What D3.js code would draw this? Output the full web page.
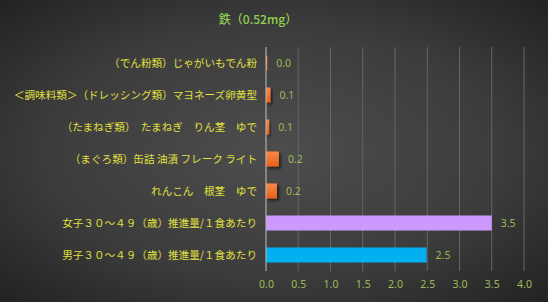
<!DOCTYPE html>
<html><head><meta charset="utf-8">
<script src="https://cdn.jsdelivr.net/npm/d3@7"></script>
<style>html,body{margin:0;padding:0;background:#333;}svg{display:block;}</style>
</head><body>
<script>
const title = "鉄（0.52mg）";
const categories = [
  "（でん粉類）じゃがいもでん粉",
  "＜調味料類＞（ドレッシング類）マヨネーズ卵黄型",
  "（たまねぎ類）　たまねぎ　りん茎　ゆで",
  "（まぐろ類）缶詰 油漬 フレーク ライト",
  "れんこん　根茎　ゆで",
  "女子３０～４９（歳）推進量/１食あたり",
  "男子３０～４９（歳）推進量/１食あたり"
];
const values = [0.02, 0.07, 0.05, 0.2, 0.17, 3.5, 2.49];
const barColors = ["orange","orange","orange","orange","orange","#cc99ff","#00b0f0"];
const xTicks = [0,0.5,1,1.5,2,2.5,3,3.5,4];

(function(){
const W = 548, H = 302;
const svg = d3.select("body").append("svg").attr("width", W).attr("height", H);
const defs = svg.append("defs");
const bg = defs.append("radialGradient").attr("id","bg").attr("cx","50%").attr("cy","50%").attr("r","75%");
bg.append("stop").attr("offset","0%").attr("stop-color","#4d4d4d");
bg.append("stop").attr("offset","55%").attr("stop-color","#3c3c3c");
bg.append("stop").attr("offset","100%").attr("stop-color","#1e1e1e");
const og = defs.append("linearGradient").attr("id","og").attr("x1","0").attr("y1","0").attr("x2","0").attr("y2","1");
og.append("stop").attr("offset","0%").attr("stop-color","#f58a4a");
og.append("stop").attr("offset","100%").attr("stop-color","#e8601a");
const sh = defs.append("filter").attr("id","sh").attr("x","-20%").attr("y","-20%").attr("width","160%").attr("height","160%");
sh.append("feDropShadow").attr("dx",2).attr("dy",2).attr("stdDeviation",1.5).attr("flood-color","#000").attr("flood-opacity",0.6);

svg.append("rect").attr("width",W).attr("height",H).attr("fill","url(#bg)");

const pl = 266, pr = 524, pt = 47, pb = 271;
const x = d3.scaleLinear().domain([0,4]).range([pl,pr]);
const y = d3.scaleBand().domain(categories).range([pt,pb]).paddingInner(0.53).paddingOuter(0.265);

svg.append("g").selectAll("line").data(xTicks.slice(1)).join("line")
  .attr("x1",d=>x(d)).attr("x2",d=>x(d)).attr("y1",pt).attr("y2",pb)
  .attr("stroke","#666").attr("stroke-width",1);

svg.append("g").selectAll("rect").data(values).join("rect")
  .attr("x",x(0)).attr("y",(d,i)=>y(categories[i]))
  .attr("width",d=>x(d)-x(0)).attr("height",y.bandwidth())
  .attr("fill",(d,i)=>barColors[i]==="orange"?"url(#og)":barColors[i])
  .attr("filter",(d,i)=>barColors[i]==="orange"?"url(#sh)":null);

svg.append("line").attr("x1",x(0)).attr("x2",x(0)).attr("y1",pt).attr("y2",pb)
  .attr("stroke","#bfbfbf").attr("stroke-width",1);

svg.append("g").selectAll("text").data(values).join("text")
  .attr("x",d=>x(d)+9).attr("y",(d,i)=>y(categories[i])+y.bandwidth()/2)
  .attr("dy","0.35em").attr("fill","#9bbb59")
  .attr("font-family","'Noto Sans','Noto Sans CJK JP',sans-serif").attr("font-size",10.5)
  .text(d=>d.toFixed(1));

svg.append("g").selectAll("text").data(categories).join("text")
  .attr("x",257).attr("y",d=>y(d)+y.bandwidth()/2).attr("dy","0.35em")
  .attr("text-anchor","end").attr("fill","#e0e040")
  .attr("font-family","'Noto Sans CJK JP',sans-serif").attr("font-size",10.6)
  .text(d=>d);

const xAxis = d3.axisBottom(x).tickValues(xTicks).tickFormat(d3.format(".1f")).tickSize(0).tickPadding(10);
const ax = svg.append("g").attr("transform",`translate(0,${pb})`).call(xAxis);
ax.select(".domain").remove();
ax.selectAll("text").attr("fill","#9bbb59").attr("font-size",10.5)
  .attr("font-family","'Noto Sans','Noto Sans CJK JP',sans-serif");

svg.append("text").attr("x",258).attr("y",24).attr("text-anchor","middle")
  .attr("fill","#92d050").attr("font-size",12).attr("font-weight","500")
  .attr("font-family","'Noto Sans CJK JP',sans-serif").text(title);
})();
</script>
</body></html>
